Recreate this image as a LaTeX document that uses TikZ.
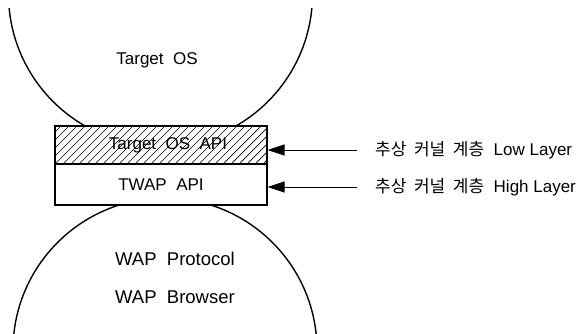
\documentclass[tikz,border=0pt]{standalone}
\usepackage{fontspec}
\setmainfont{Liberation Sans}
\newfontfamily\krfont{Noto Sans CJK KR}
\usetikzlibrary{arrows.meta}
\begin{document}
\begin{tikzpicture}[x=1pt,y=-1pt,
  lbl/.style={font=\fontsize{17}{20}\selectfont, inner sep=0pt},
  biglbl/.style={font=\fontsize{18.5}{22}\selectfont, inner sep=0pt, anchor=west},
  rlbl/.style={font=\fontsize{17}{20}\selectfont, inner sep=0pt, anchor=west},
  layer/.style={draw, line width=1.2pt, fill=white, minimum width=212pt, inner sep=0pt},
  arcline/.style={line width=1.4pt},
  hatchline/.style={line width=0.7pt},
  pointer/.style={line width=1pt, -{Triangle[length=17pt,width=11pt]}}]
\useasboundingbox (0,0) rectangle (580,334);
\begin{scope}
  \clip (0,9) rectangle (580,334);
  \draw[arcline] (160.5,-6) circle[radius=152pt];
  \draw[arcline] (165,350) circle[radius=152pt];
\end{scope}
\node[layer, minimum height=41pt] (twap) at (161,184.5) {};
\node[layer, minimum height=38pt] (osapi) at (161,145) {};
\node[lbl] (ostext) at (168,145) {Target\ \ OS\ \ API};
\begin{scope}
  \clip (osapi.south west) rectangle (osapi.north east);
  \foreach \i in {0,...,34} \draw[hatchline] (15+\i*8,164) -- ++(40,-40);
\end{scope}
\node[layer, minimum height=38pt, fill=none] at (161,145) {};
\node[lbl] (twaptext) at (161,185) {TWAP\ \ API};
\node[lbl] (tos) at (157,60) {Target\ \ OS};
\node[biglbl] (proto) at (115,259) {WAP\ \ Protocol};
\node[biglbl] (brow) at (115,297) {WAP\ \ Browser};
\coordinate (a1) at (357,150);
\coordinate (a2) at (357,187);
\draw[pointer] (a1) -- (a1 -| osapi.east);
\draw[pointer] (a2) -- (a2 -| twap.east);
\node[rlbl] (low) at (375,150) {{\krfont 추상\ \ 커널\ \ 계층}\ \ Low Layer};
\node[rlbl] (high) at (375,187) {{\krfont 추상\ \ 커널\ \ 계층}\ \ High Layer};
\end{tikzpicture}
\end{document}
